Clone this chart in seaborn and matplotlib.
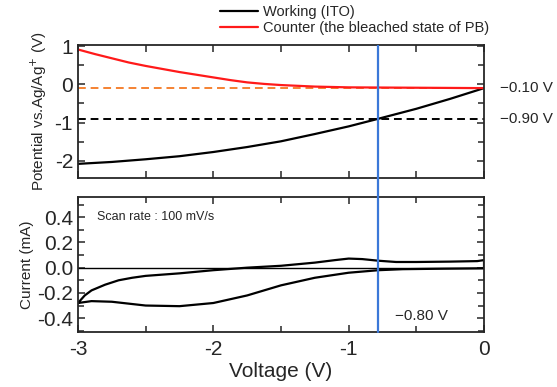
import matplotlib
matplotlib.use("Agg")
import matplotlib.pyplot as plt
from matplotlib.ticker import MultipleLocator
import pandas as pd
import seaborn as sns

# ── Data ──────────────────────────────────────────────────────
work_v = [-3.0, -2.75, -2.5, -2.25, -2.0, -1.75, -1.5, -1.25, -1.0, -0.78, -0.5, -0.25, 0.0]
work_p = [-2.08, -2.03, -1.96, -1.88, -1.77, -1.64, -1.49, -1.30, -1.10, -0.90, -0.64, -0.38, -0.10]

cnt_v = [-3.0, -2.875, -2.75, -2.625, -2.5, -2.25, -2.0, -1.875, -1.75, -1.625, -1.5,
         -1.25, -1.0, -0.5, 0.0]
cnt_p = [0.91, 0.79, 0.68, 0.57, 0.48, 0.32, 0.18, 0.11, 0.05, 0.01, -0.02,
         -0.06, -0.08, -0.09, -0.10]

# CV loop: upper branch -3 -> 0, then lower branch 0 -> -3
cv_v = [-3.0, -2.95, -2.9, -2.8, -2.7, -2.6, -2.5, -2.25, -2.0, -1.75, -1.5, -1.25,
        -1.1, -1.0, -0.9, -0.78, -0.65, -0.5, -0.25, -0.05, 0.0,
        0.0, -0.3, -0.6, -0.78, -1.0, -1.25, -1.5, -1.75, -2.0, -2.25, -2.5, -2.75,
        -2.9, -3.0]
cv_i = [-0.28, -0.22, -0.18, -0.135, -0.10, -0.08, -0.065, -0.045, -0.02, 0.0, 0.015, 0.04,
        0.06, 0.072, 0.068, 0.055, 0.045, 0.045, 0.048, 0.052, 0.06,
        -0.005, -0.008, -0.012, -0.02, -0.04, -0.08, -0.14, -0.22, -0.28, -0.305, -0.30, -0.27,
        -0.265, -0.28]

ref_levels = [-0.10, -0.90]
ref_labels = ["\u22120.10 V", "\u22120.90 V"]
v_mark = -0.78
v_mark_label = "\u22120.80 V"

# ── Plot ──────────────────────────────────────────────────────
sns.set_style("ticks")
plt.rcParams["font.family"] = ["Liberation Sans", "DejaVu Sans"]
plt.rcParams["xtick.direction"] = "in"
plt.rcParams["ytick.direction"] = "in"

fig = plt.figure(figsize=(5.57, 3.87), dpi=100)
ax1 = fig.add_axes([0.140, 0.540, 0.729, 0.344])
ax2 = fig.add_axes([0.140, 0.142, 0.729, 0.349])

df_w = pd.DataFrame({"v": work_v, "p": work_p})
df_c = pd.DataFrame({"v": cnt_v, "p": cnt_p})
df_cv = pd.DataFrame({"v": cv_v, "i": cv_i})

# top panel: electrode potentials
sns.lineplot(data=df_w, x="v", y="p", color="black", lw=1.6, ax=ax1, label="Working (ITO)")
sns.lineplot(data=df_c, x="v", y="p", color="#ff1a1a", lw=1.6, ax=ax1,
             label="Counter (the bleached state of PB)")
ax1.axhline(ref_levels[0], color="#f58232", ls="--", lw=1.4, dashes=(4, 2.5), zorder=1)
ax1.axhline(ref_levels[1], color="black", ls="--", lw=1.4, dashes=(4, 2.5), zorder=1)
for lvl, lab in zip(ref_levels, ref_labels):
    ax1.text(1.04, lvl, lab, transform=ax1.get_yaxis_transform(), va="center",
             ha="left", fontsize=11)
ax1.axvline(v_mark, color="#3b78d8", lw=1.6, zorder=3)

ax1.set_xlim(-3, 0)
ax1.set_ylim(-2.45, 1.03)
ax1.xaxis.set_major_locator(MultipleLocator(0.5))
ax1.set_xticklabels([])
ax1.set_yticks([-2, -1, 0, 1])
ax1.set_yticklabels(["-2", "-1", "0", "1"])
ax1.yaxis.set_minor_locator(MultipleLocator(0.5))
ax1.set_xlabel("")
ax1.set_ylabel("Potential vs.Ag/Ag$^{+}$ (V)", fontsize=11, labelpad=4)
h, l = ax1.get_legend_handles_labels()
ax1.legend_.remove()
fig.legend(h, l, loc="upper left", bbox_to_anchor=(0.38, 1.01), frameon=False,
           fontsize=10.5, handlelength=2.6, labelspacing=0.15, handletextpad=0.3,
           borderaxespad=0.2)

# bottom panel: CV
ax2.axhline(0, color="black", lw=1.0, zorder=1)
sns.lineplot(data=df_cv, x="v", y="i", sort=False, estimator=None, color="black",
             lw=1.6, ax=ax2)
ax2.axvline(v_mark, ymin=0, ymax=1.14, color="#3b78d8", lw=1.6, clip_on=False, zorder=3)
ax2.text(-2.86, 0.40, "Scan rate : 100 mV/s", fontsize=9, va="center", ha="left")
ax2.text(-0.66, -0.38, v_mark_label, fontsize=11, va="center", ha="left")

ax2.set_xlim(-3, 0)
ax2.set_ylim(-0.51, 0.56)
ax2.set_xticks([-3, -2, -1, 0])
ax2.set_xticklabels(["-3", "-2", "-1", "0"])
ax2.xaxis.set_minor_locator(MultipleLocator(0.5))
ax2.set_yticks([-0.4, -0.2, 0.0, 0.2, 0.4])
ax2.set_yticklabels(["-0.4", "-0.2", "0.0", "0.2", "0.4"])
ax2.yaxis.set_minor_locator(MultipleLocator(0.1))
ax2.set_xlabel("Voltage (V)", fontsize=15, labelpad=2)
ax2.set_ylabel("Current (mA)", fontsize=11, labelpad=2)

for ax in (ax1, ax2):
    for s in ax.spines.values():
        s.set_linewidth(1.3)
        s.set_visible(True)
    ax.tick_params(which="both", top=True, right=True, labelsize=15, width=1.1)
    ax.tick_params(which="major", length=5)
    ax.tick_params(which="minor", length=4)
    ax.tick_params(axis="x", which="major", pad=6)

plt.savefig("out.png", dpi=100)
